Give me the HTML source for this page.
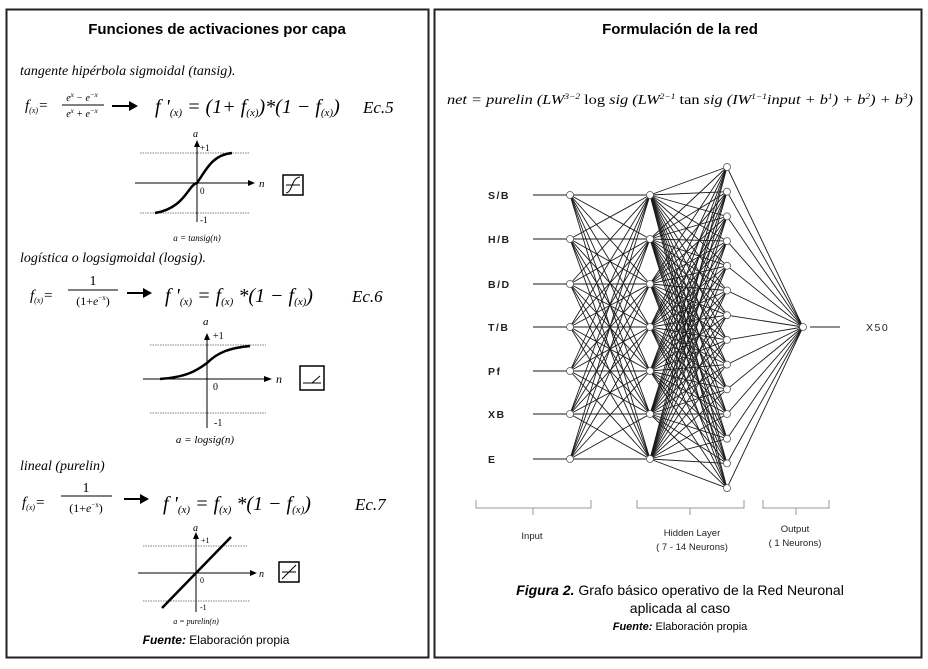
<!DOCTYPE html>
<html><head><meta charset="utf-8"><style>
html,body{margin:0;padding:0;background:#fff;}
svg{display:block;}
.s{font-family:"Liberation Serif",serif;font-style:italic;}
.r{font-family:"Liberation Serif",serif;}
.a{font-family:"Liberation Sans",sans-serif;}
</style></head><body>
<svg id="sv" width="928" height="669" viewBox="0 0 928 669" xmlns="http://www.w3.org/2000/svg">
<rect x="0" y="0" width="928" height="669" fill="#fff"/>
<rect x="6.5" y="9.5" width="422" height="648" fill="none" stroke="#222" stroke-width="2"/>
<rect x="434.5" y="9.5" width="487" height="648" fill="none" stroke="#222" stroke-width="2"/>
<text x="217" y="34" text-anchor="middle" class="a" font-weight="bold" font-size="15">Funciones de activaciones por capa</text>
<text x="680" y="34" text-anchor="middle" class="a" font-weight="bold" font-size="15">Formulación de la red</text>

<!-- Ec5 -->
<text x="20" y="75" class="s" font-size="14">tangente hipérbola sigmoidal (tansig).</text>
<text x="25" y="110" class="s" font-size="15">f<tspan font-size="8" dy="3">(x)</tspan><tspan dy="-3" class="r">=</tspan></text>
<text x="82" y="101" text-anchor="middle" class="s" font-size="10">e<tspan dy="-4" font-size="7">x</tspan><tspan dy="4"> − e</tspan><tspan dy="-4" font-size="7">−x</tspan></text>
<line x1="62" y1="105" x2="104" y2="105" stroke="#000" stroke-width="1"/>
<text x="82" y="117" text-anchor="middle" class="s" font-size="10">e<tspan dy="-4" font-size="7">x</tspan><tspan dy="4"> + e</tspan><tspan dy="-4" font-size="7">−x</tspan></text>
<line x1="112" y1="106" x2="132" y2="106" stroke="#000" stroke-width="2"/><polygon points="129,101 138,106 129,111" fill="#000"/>
<text x="155" y="113" class="s" font-size="20">f '<tspan font-size="11" dy="3">(x)</tspan><tspan dy="-3" class="r"> = (1+ </tspan>f<tspan font-size="11" dy="3">(x)</tspan><tspan dy="-3" class="r">)*(1 − </tspan>f<tspan font-size="11" dy="3">(x)</tspan><tspan dy="-3" class="r">)</tspan></text>
<text x="363" y="113" class="s" font-size="17">Ec.5</text>

<!-- Ec6 -->
<text x="20" y="262" class="s" font-size="14">logística o logsigmoidal (logsig).</text>
<text x="30" y="300" class="s" font-size="15">f<tspan font-size="8" dy="3">(x)</tspan><tspan dy="-3" class="r">=</tspan></text>
<text x="93" y="285" text-anchor="middle" class="r" font-size="14">1</text>
<line x1="68" y1="290" x2="118" y2="290" stroke="#000"/>
<text x="93" y="305" text-anchor="middle" class="r" font-size="12">(1+<tspan class="s">e</tspan><tspan dy="-5" font-size="7">−x</tspan><tspan dy="5">)</tspan></text>
<line x1="127" y1="293" x2="146" y2="293" stroke="#000" stroke-width="2"/><polygon points="143,288 152,293 143,298" fill="#000"/>
<text x="165" y="302" class="s" font-size="20">f '<tspan font-size="11" dy="3">(x)</tspan><tspan dy="-3" class="r"> = </tspan>f<tspan font-size="11" dy="3">(x)</tspan><tspan dy="-3" class="r"> *(1 − </tspan>f<tspan font-size="11" dy="3">(x)</tspan><tspan dy="-3" class="r">)</tspan></text>
<text x="352" y="302" class="s" font-size="17">Ec.6</text>

<!-- Ec7 -->
<text x="20" y="470" class="s" font-size="14">lineal (purelin)</text>
<text x="22" y="507" class="s" font-size="15">f<tspan font-size="8" dy="3">(x)</tspan><tspan dy="-3" class="r">=</tspan></text>
<text x="86" y="492" text-anchor="middle" class="r" font-size="14">1</text>
<line x1="61" y1="496" x2="112" y2="496" stroke="#000"/>
<text x="86" y="512" text-anchor="middle" class="r" font-size="12">(1+<tspan class="s">e</tspan><tspan dy="-5" font-size="7">−x</tspan><tspan dy="5">)</tspan></text>
<line x1="124" y1="499" x2="143" y2="499" stroke="#000" stroke-width="2"/><polygon points="140,494 149,499 140,504" fill="#000"/>
<text x="163" y="510" class="s" font-size="20">f '<tspan font-size="11" dy="3">(x)</tspan><tspan dy="-3" class="r"> = </tspan>f<tspan font-size="11" dy="3">(x)</tspan><tspan dy="-3" class="r"> *(1 − </tspan>f<tspan font-size="11" dy="3">(x)</tspan><tspan dy="-3" class="r">)</tspan></text>
<text x="355" y="510" class="s" font-size="17">Ec.7</text>

<!-- graph 1 -->
<g stroke="#555" stroke-dasharray="1.5,1" stroke-width="0.8"><line x1="140" y1="153" x2="250" y2="153"/><line x1="140" y1="213" x2="250" y2="213"/></g>
<line x1="197" y1="145" x2="197" y2="222" stroke="#000"/><polygon points="194,147 197,140 200,147" fill="#000"/>
<line x1="135" y1="183" x2="250" y2="183" stroke="#000"/><polygon points="248,180 255,183 248,186" fill="#000"/>
<path d="M155,213 C185,208 188,185 197,183 C206,170 212,155 232,153" fill="none" stroke="#000" stroke-width="2.5"/>
<text x="193" y="137" class="s" font-size="10">a</text><text x="200" y="151" class="r" font-size="9">+1</text>
<text x="200" y="194" class="r" font-size="9">0</text><text x="200" y="223" class="r" font-size="9">-1</text>
<text x="259" y="187" class="s" font-size="11">n</text>
<text x="197" y="241" text-anchor="middle" class="s" font-size="9">a = tansig(n)</text>
<rect x="283" y="175" width="20" height="20" fill="none" stroke="#000" stroke-width="1.5"/>
<path d="M286,193 C293,192 291,178 300,177 M286,185 L300,185" fill="none" stroke="#000"/>

<!-- graph 2 -->
<g stroke="#555" stroke-dasharray="1.5,1" stroke-width="0.8"><line x1="150" y1="345" x2="266" y2="345"/><line x1="150" y1="413" x2="266" y2="413"/></g>
<line x1="207" y1="337" x2="207" y2="428" stroke="#000"/><polygon points="204,340 207,333 210,340" fill="#000"/>
<line x1="143" y1="379" x2="266" y2="379" stroke="#000"/><polygon points="264,376 272,379 264,382" fill="#000"/>
<path d="M160,379 C185,377 195,372 207,363 C218,352 230,348 250,346" fill="none" stroke="#000" stroke-width="2.5"/>
<text x="203" y="325" class="s" font-size="11">a</text><text x="213" y="339" class="r" font-size="10">+1</text>
<text x="213" y="390" class="r" font-size="10">0</text><text x="214" y="426" class="r" font-size="10">-1</text>
<text x="276" y="383" class="s" font-size="12">n</text>
<text x="205" y="443" text-anchor="middle" class="s" font-size="11">a = logsig(n)</text>
<rect x="300" y="366" width="24" height="24" fill="none" stroke="#000" stroke-width="1.5"/>
<path d="M303,383 L312,383 L320,376 M303,383 L321,383" fill="none" stroke="#000"/>

<!-- graph 3 -->
<g stroke="#555" stroke-dasharray="1.5,1" stroke-width="0.8"><line x1="143" y1="546" x2="247" y2="546"/><line x1="143" y1="601" x2="250" y2="601"/></g>
<line x1="196" y1="537" x2="196" y2="612" stroke="#000"/><polygon points="193,539 196,532 199,539" fill="#000"/>
<line x1="138" y1="573" x2="252" y2="573" stroke="#000"/><polygon points="250,570 257,573 250,576" fill="#000"/>
<line x1="162" y1="608" x2="231" y2="537" stroke="#000" stroke-width="2.5"/>
<text x="193" y="531" class="s" font-size="10">a</text><text x="201" y="543" class="r" font-size="8">+1</text>
<text x="200" y="583" class="r" font-size="8">0</text><text x="200" y="610" class="r" font-size="8">-1</text>
<text x="259" y="577" class="s" font-size="10">n</text>
<text x="196" y="624" text-anchor="middle" class="s" font-size="8">a = purelin(n)</text>
<rect x="279" y="562" width="20" height="20" fill="none" stroke="#000" stroke-width="1.5"/>
<line x1="282" y1="579" x2="296" y2="565" stroke="#000"/><line x1="282" y1="572" x2="296" y2="572" stroke="#000"/>
<text x="216" y="644" text-anchor="middle" class="a" font-size="12"><tspan font-weight="bold" font-style="italic">Fuente:</tspan> Elaboración propia</text>

<!-- right formula -->
<text x="447" y="104" class="s" font-size="14" textLength="466" lengthAdjust="spacingAndGlyphs">net = purelin (LW<tspan font-size="8" dy="-5">3−2</tspan><tspan dy="5" font-style="normal"> log </tspan>sig (LW<tspan font-size="8" dy="-5">2−1</tspan><tspan dy="5" font-style="normal"> tan </tspan>sig (IW<tspan font-size="8" dy="-5">1−1</tspan><tspan dy="5">input + b</tspan><tspan font-size="8" dy="-5">1</tspan><tspan dy="5">) + b</tspan><tspan font-size="8" dy="-5">2</tspan><tspan dy="5">) + b</tspan><tspan font-size="8" dy="-5">3</tspan><tspan dy="5">)</tspan></text>

<g id="net" stroke="#1a1a1a" stroke-width="0.9" fill="none"></g>
<g id="nodes" stroke="#555" stroke-width="0.8" fill="#fff"></g>

<g class="a" font-size="10.5" fill="#222" letter-spacing="1.5" font-weight="bold">
<text x="488" y="199">S/B</text><text x="488" y="243">H/B</text><text x="488" y="288">B/D</text>
<text x="488" y="331">T/B</text><text x="488" y="375">Pf</text><text x="488" y="418">XB</text><text x="488" y="463">E</text>
</g>
<text x="866" y="331" class="a" font-size="10.5" letter-spacing="1.5" fill="#222">X50</text>
<line x1="810" y1="327" x2="840" y2="327" stroke="#222"/>
<g stroke="#999" fill="none" stroke-width="1">
<path d="M476,500 L476,508 L591,508 L591,500 M533,508 L533,515"/>
<path d="M637,500 L637,508 L744,508 L744,500 M690,508 L690,515"/>
<path d="M763,500 L763,508 L829,508 L829,500 M796,508 L796,515"/>
</g>
<g class="a" font-size="9.5" fill="#222" text-anchor="middle">
<text x="532" y="539">Input</text>
<text x="692" y="536">Hidden Layer</text><text x="692" y="550">( 7 - 14 Neurons)</text>
<text x="795" y="532">Output</text><text x="795" y="546">( 1 Neurons)</text>
</g>
<text x="680" y="595" text-anchor="middle" class="a" font-size="14"><tspan font-weight="bold" font-style="italic">Figura 2.</tspan> Grafo básico operativo de la Red Neuronal</text>
<text x="680" y="613" text-anchor="middle" class="a" font-size="14">aplicada al caso</text>
<text x="680" y="630" text-anchor="middle" class="a" font-size="11"><tspan font-weight="bold" font-style="italic">Fuente:</tspan> Elaboración propia</text>
</svg>
<script>
var ns="http://www.w3.org/2000/svg",net=document.getElementById("net"),nd=document.getElementById("nodes");
var ys=[195,239,284,327,371,414,459],L3=[];
for(var i=0;i<14;i++)L3.push(167+i*24.7);
function ln(a,b,c,d){var l=document.createElementNS(ns,"line");l.setAttribute("x1",a);l.setAttribute("y1",b);l.setAttribute("x2",c);l.setAttribute("y2",d);net.appendChild(l);}
function ci(x,y){var c=document.createElementNS(ns,"circle");c.setAttribute("cx",x);c.setAttribute("cy",y);c.setAttribute("r",3.5);nd.appendChild(c);}
ys.forEach(function(y){ln(533,y,570,y);ys.forEach(function(y2){ln(570,y,650,y2);});L3.forEach(function(y3){ln(650,y,727,y3);});});
L3.forEach(function(y){ln(727,y,803,327);});
ys.forEach(function(y){ci(570,y);ci(650,y);});L3.forEach(function(y){ci(727,y);});ci(803,327);
</script>
</body></html>
